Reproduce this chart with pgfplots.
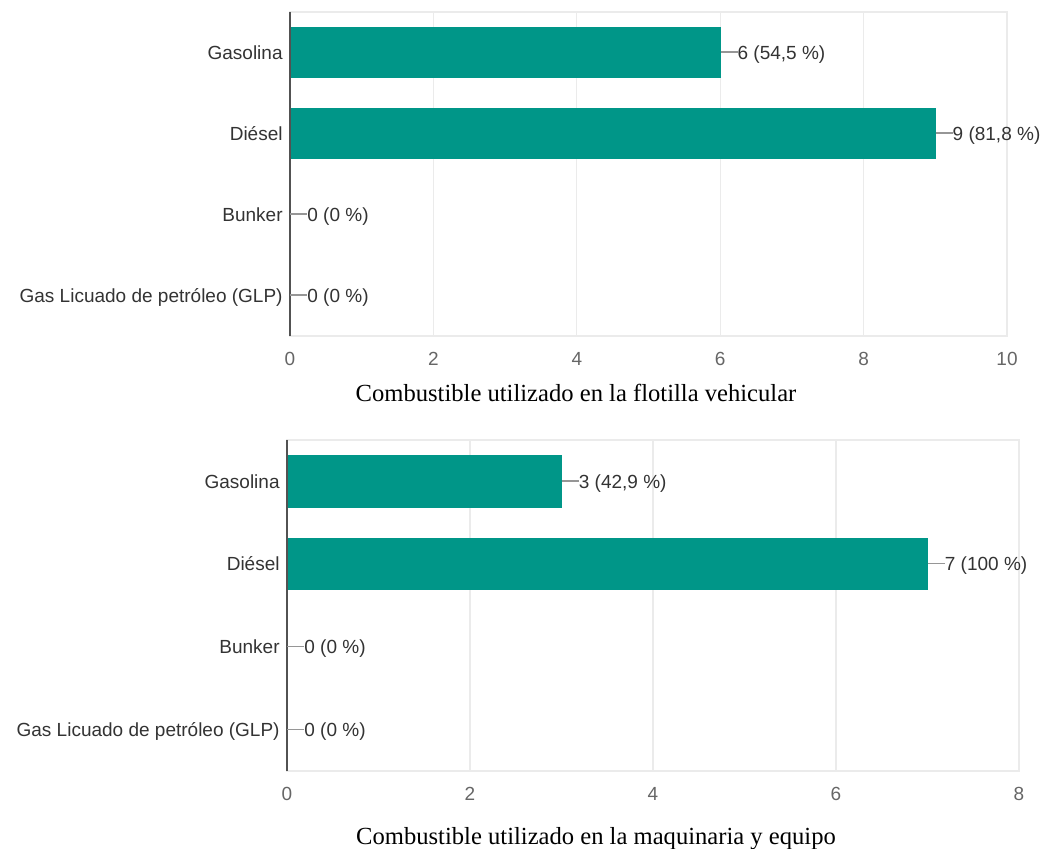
\documentclass[border=0pt]{standalone}
\usepackage{fontspec}
\setmainfont{Liberation Serif}
\newfontfamily\arial{Liberation Sans}
\usepackage{pgfplots}
\pgfplotsset{compat=1.18}
\definecolor{barteal}{RGB}{0,150,136}
\definecolor{labgray}{RGB}{51,51,51}
\definecolor{tickgray}{RGB}{102,102,102}
\definecolor{gridgray}{RGB}{235,235,235}
\definecolor{leadgray}{RGB}{150,150,150}
\newcommand{\lead}{{\color{leadgray}\rule[0.34em]{8.5pt}{0.7pt}}}
\pgfplotsset{
  myaxis/.style={
    scale only axis,
    anchor=south west,
    xbar,
    y dir=reverse,
    ymin=-0.5, ymax=3.5,
    xmin=0,
    ytick={0,1,2,3},
    yticklabels={Gasolina, Diésel, Bunker, Gas Licuado de petróleo (GLP)},
    major tick length=0pt,
    xmajorgrids=true,
    major grid style={draw=gridgray, line width=0.6pt},
    axis line style={draw=gridgray, line width=0.6pt},
    /pgf/number format/assume math mode=true,
    xticklabel style={font=\arial\fontsize{9.5}{11}\selectfont, text=tickgray, inner sep=0pt, anchor=north, yshift=-7.8pt},
    yticklabel style={font=\arial\fontsize{9.5}{11}\selectfont, text=labgray, inner sep=0pt, anchor=base east, xshift=-3.5pt, yshift=-3.4pt},
    bar width=0.62,
    point meta=explicit symbolic,
    nodes near coords={\lead\pgfplotspointmeta},
    nodes near coords style={font=\arial\fontsize{9.5}{11}\selectfont, text=labgray, inner sep=0pt, anchor=base west, yshift=-3.4pt},
    clip=false,
  }
}
\begin{document}
\begin{tikzpicture}
\useasboundingbox (0,0) rectangle (521.5pt,424.5pt);
\begin{axis}[myaxis, at={(145pt,256.5pt)}, width=358.5pt, height=162pt, xmax=10, xtick={0,2,4,6,8,10}]
\addplot[fill=barteal, draw=barteal] coordinates {
  (6,0) [6 (54,5 \%)]
  (9,1) [9 (81,8 \%)]
  (0,2) [0 (0 \%)]
  (0,3) [0 (0 \%)]
};
\draw[color=labgray!85, line width=1pt] (axis cs:0,-0.5) -- (axis cs:0,3.5);
\end{axis}
\node[font=\fontsize{12.3}{14}\selectfont, anchor=base] at (288pt,223.5pt) {Combustible utilizado en la flotilla vehicular};
\begin{axis}[myaxis, at={(143.5pt,39pt)}, width=366pt, height=165.5pt, xmax=8, xtick={0,2,4,6,8}]
\addplot[fill=barteal, draw=barteal] coordinates {
  (3,0) [3 (42,9 \%)]
  (7,1) [7 (100 \%)]
  (0,2) [0 (0 \%)]
  (0,3) [0 (0 \%)]
};
\draw[color=labgray!85, line width=1pt] (axis cs:0,-0.5) -- (axis cs:0,3.5);
\end{axis}
\node[font=\fontsize{12.3}{14}\selectfont, anchor=base] at (298pt,2pt) {Combustible utilizado en la maquinaria y equipo};
\end{tikzpicture}
\end{document}
